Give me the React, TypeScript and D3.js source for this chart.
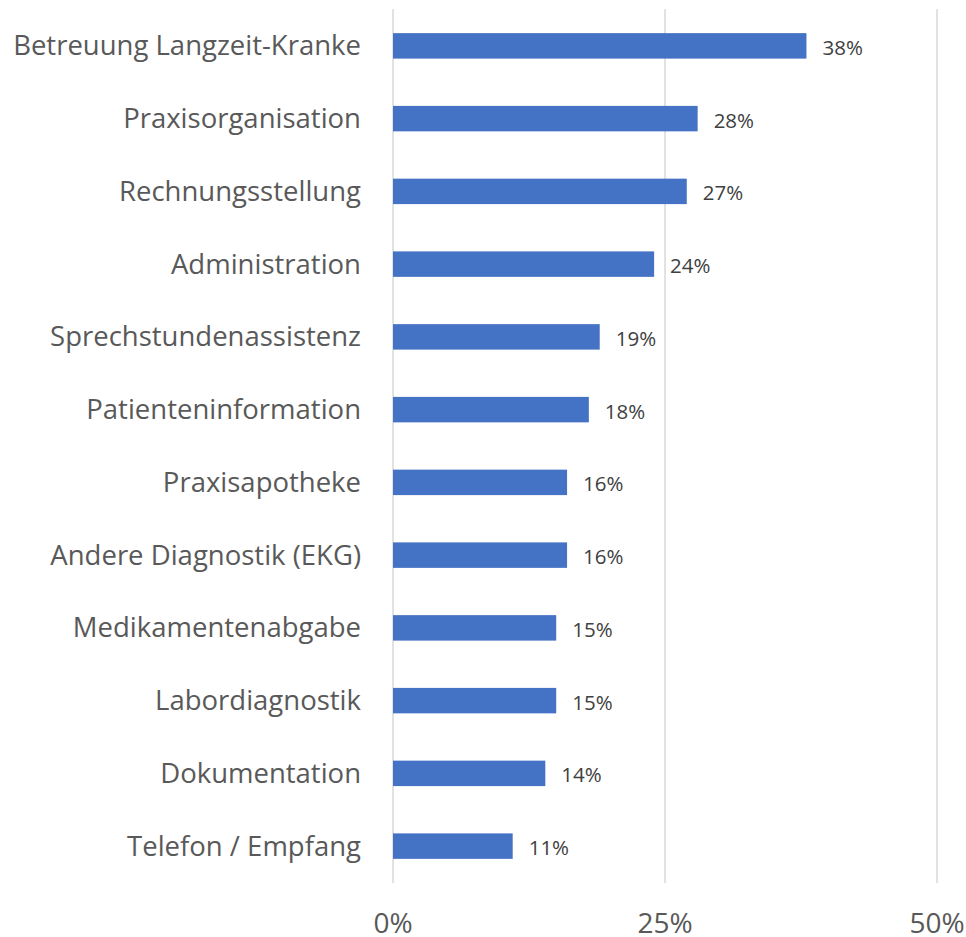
import React from "react";
import * as d3 from "d3";

const categories = [
  "Betreuung Langzeit-Kranke",
  "Praxisorganisation",
  "Rechnungsstellung",
  "Administration",
  "Sprechstundenassistenz",
  "Patienteninformation",
  "Praxisapotheke",
  "Andere Diagnostik (EKG)",
  "Medikamentenabgabe",
  "Labordiagnostik",
  "Dokumentation",
  "Telefon / Empfang",
];
const values = [38, 28, 27, 24, 19, 18, 16, 16, 15, 15, 14, 11];
const ticks = [0, 25, 50];

const W = 966;
const H = 937;
const FONT = "'Open Sans', 'Noto Sans', sans-serif";

export default function App() {
  const x = d3.scaleLinear().domain([0, 50]).range([393, 937]);
  const y = d3
    .scaleBand<string>()
    .domain(categories)
    .range([9.5, 882.5])
    .paddingInner(0.65)
    .paddingOuter(0.325);

  return (
    <svg
      width={W}
      height={H}
      style={{ position: "absolute", left: 0, top: 0, background: "#fff" }}
      fontFamily={FONT}
    >
      {ticks.map((t) => (
        <line
          key={"g" + t}
          x1={x(t)}
          x2={x(t)}
          y1={9}
          y2={883}
          stroke="#d9d9d9"
          strokeWidth={1.5}
        />
      ))}
      {categories.map((c, i) => (
        <g key={c}>
          <rect
            x={x(0)}
            y={y(c)!}
            width={x(values[i]) - x(0)}
            height={y.bandwidth()}
            fill="#4472C4"
          />
          <text
            x={361}
            y={y(c)! + y.bandwidth() / 2 - 1}
            textAnchor="end"
            dominantBaseline="central"
            fontSize={27.5}
            fill="#595959"
          >
            {c}
          </text>
          <text
            x={x(values[i]) + 16}
            y={y(c)! + y.bandwidth() / 2 + 1}
            dominantBaseline="central"
            fontSize={20.5}
            fill="#404040"
          >
            {values[i] + "%"}
          </text>
        </g>
      ))}
      {ticks.map((t) => (
        <text
          key={"t" + t}
          x={x(t)}
          y={922}
          textAnchor="middle"
          dominantBaseline="central"
          fontSize={28}
          fill="#595959"
        >
          {t + "%"}
        </text>
      ))}
    </svg>
  );
}
